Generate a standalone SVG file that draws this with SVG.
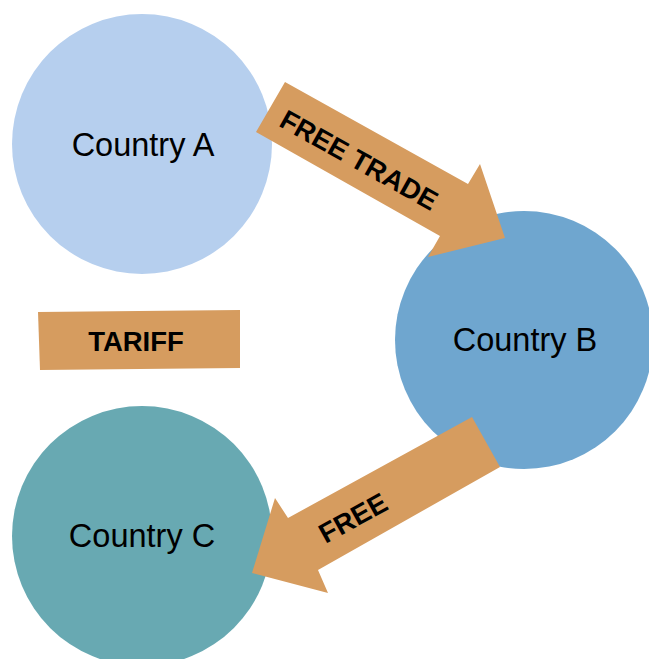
<svg xmlns="http://www.w3.org/2000/svg" width="649" height="659" viewBox="0 0 649 659">
<style>
.lbl{font-family:"Liberation Sans",Arial,sans-serif;font-size:32.5px;fill:#000;text-anchor:middle;dominant-baseline:central}
.arr{fill:#d69c5f}
.bl{font-family:"Liberation Sans",Arial,sans-serif;font-weight:bold;font-size:27.5px;fill:#000;text-anchor:middle;dominant-baseline:central}
</style>
<rect width="649" height="659" fill="#fff"/>
<g id="countryA"><circle cx="142" cy="144" r="130" fill="#b6cfee"/><text class="lbl" x="143" y="145">Country A</text></g>
<g id="countryB"><circle cx="524" cy="340" r="129" fill="#6fa6cf"/><text class="lbl" x="525" y="340">Country B</text></g>
<g id="countryC"><circle cx="142" cy="536" r="130" fill="#68a9b2"/><text class="lbl" x="142" y="536">Country C</text></g>
<g id="connectors">
<g id="freeTrade"><polygon class="arr" points="285,82 468,184 480,164 505,238 428,257 440,236 256,132"/><text class="bl" transform="translate(359,160) rotate(29.2)">FREE TRADE</text></g>
<g id="free"><polygon class="arr" points="472,417 500,467 318,570 328,593 252,573 275,498 288,518"/><text class="bl" transform="translate(353,518) rotate(-29)">FREE</text></g>
</g>
<g id="tariff"><polygon class="arr" points="38,312 240,310 240,368 40,370"/><text class="bl" x="136" y="341">TARIFF</text></g>
</svg>
